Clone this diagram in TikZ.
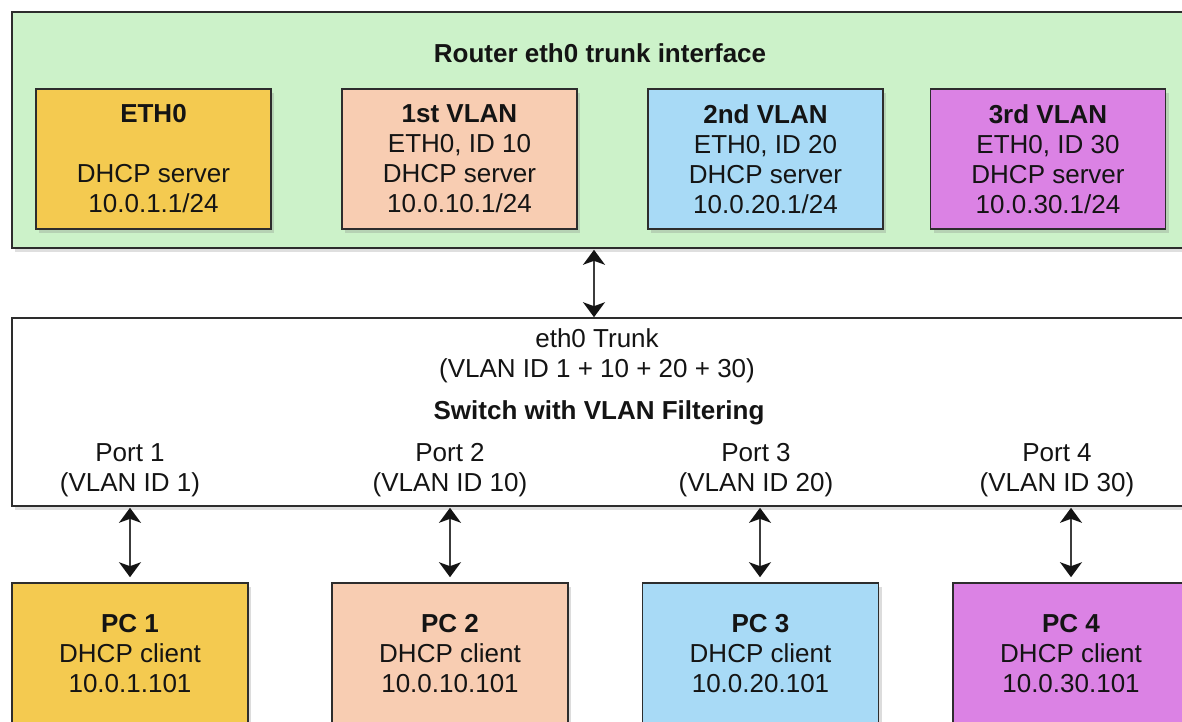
\documentclass[tikz,border=0pt]{standalone}
\usepackage{fontspec}
\setmainfont{Liberation Sans}
\usetikzlibrary{shadows,arrows.meta}

\definecolor{routerbg}{RGB}{204,242,201}
\definecolor{ethfill}{RGB}{244,202,80}
\definecolor{vlanone}{RGB}{248,205,178}
\definecolor{vlantwo}{RGB}{168,218,246}
\definecolor{vlanthree}{RGB}{219,130,228}
\definecolor{edge}{RGB}{45,45,45}
\definecolor{ink}{RGB}{20,20,20}
\definecolor{shaft}{RGB}{60,60,60}

\newcommand\diagfont{\fontsize{26}{30}\selectfont}

\tikzset{
  panel/.style={draw=edge, line width=1.6pt, minimum width=1178pt,
    drop shadow={shadow xshift=3pt, shadow yshift=-4pt, opacity=0.25}},
  ifbox/.style={draw=edge, line width=1.6pt, minimum width=235pt,
    minimum height=140pt, align=center, text=ink, font=\diagfont,
    drop shadow={shadow xshift=3pt, shadow yshift=-4pt, opacity=0.28}},
  pcbox/.style={ifbox, minimum width=236pt, minimum height=142pt},
  label/.style={align=center, text=ink, font=\diagfont},
  link/.style={
    {Stealth[length=15pt,width=22pt,inset=4pt,color=ink]}-{Stealth[length=15pt,width=22pt,inset=4pt,color=ink]},
    draw=shaft, line width=1.6pt},
}

\begin{document}
\begin{tikzpicture}[x=1pt, y=-1pt]
  \useasboundingbox (0,0) rectangle (1182,722);
  \clip (0,0) rectangle (1182,722);

  % router with its trunk sub-interfaces
  \node[panel, fill=routerbg, minimum height=236pt] (router) at (601,130) {};
  \node[label, font=\diagfont\bfseries] (rtitle) at (600,53) {Router eth0 trunk interface};

  \node[ifbox, fill=ethfill] (eth0) at (153.5,159)
    {\textbf{ETH0}\\[30pt]DHCP server\\10.0.1.1/24};
  \node[ifbox, fill=vlanone] (vlan10) at (459.5,159)
    {\textbf{1st VLAN}\\ETH0, ID 10\\DHCP server\\10.0.10.1/24};
  \node[ifbox, fill=vlantwo] (vlan20) at (765.5,159)
    {\textbf{2nd VLAN}\\ETH0, ID 20\\DHCP server\\10.0.20.1/24};
  \node[ifbox, fill=vlanthree] (vlan30) at (1048,159)
    {\textbf{3rd VLAN}\\ETH0, ID 30\\DHCP server\\10.0.30.1/24};

  % switch
  \node[panel, fill=white, minimum height=188pt] (switch) at (601,412) {};
  \node[label] (trunk) at (597,356) {eth0 Trunk\\(VLAN ID 1 + 10 + 20 + 30)};
  \node[label, font=\diagfont\bfseries] (swtitle) at (599,413) {Switch with VLAN Filtering};

  \node[label] (port1) at (130,470) {Port 1\\(VLAN ID 1)};
  \node[label] (port2) at (450,470) {Port 2\\(VLAN ID 10)};
  \node[label] (port3) at (756,470) {Port 3\\(VLAN ID 20)};
  \node[label] (port4) at (1057,470) {Port 4\\(VLAN ID 30)};

  % client machines
  \node[pcbox, fill=ethfill] (pc1) at (130,654)
    {\textbf{PC 1}\\DHCP client\\10.0.1.101};
  \node[pcbox, fill=vlanone] (pc2) at (450,654)
    {\textbf{PC 2}\\DHCP client\\10.0.10.101};
  \node[pcbox, fill=vlantwo] (pc3) at (760.5,654)
    {\textbf{PC 3}\\DHCP client\\10.0.20.101};
  \node[pcbox, fill=vlanthree] (pc4) at (1071,654)
    {\textbf{PC 4}\\DHCP client\\10.0.30.101};

  % link positions
  \coordinate (t0) at (594,0);
  \coordinate (a1) at (130,0);
  \coordinate (a2) at (450,0);
  \coordinate (a3) at (760,0);
  \coordinate (a4) at (1071,0);

  \draw[link, shorten <=1pt] (router.south -| t0) -- (switch.north -| t0);
  \foreach \i in {1,...,4}{
    \draw[link, shorten <=1pt, shorten >=5pt]
      (switch.south -| a\i) -- (pc\i.north -| a\i);
  }
\end{tikzpicture}
\end{document}
